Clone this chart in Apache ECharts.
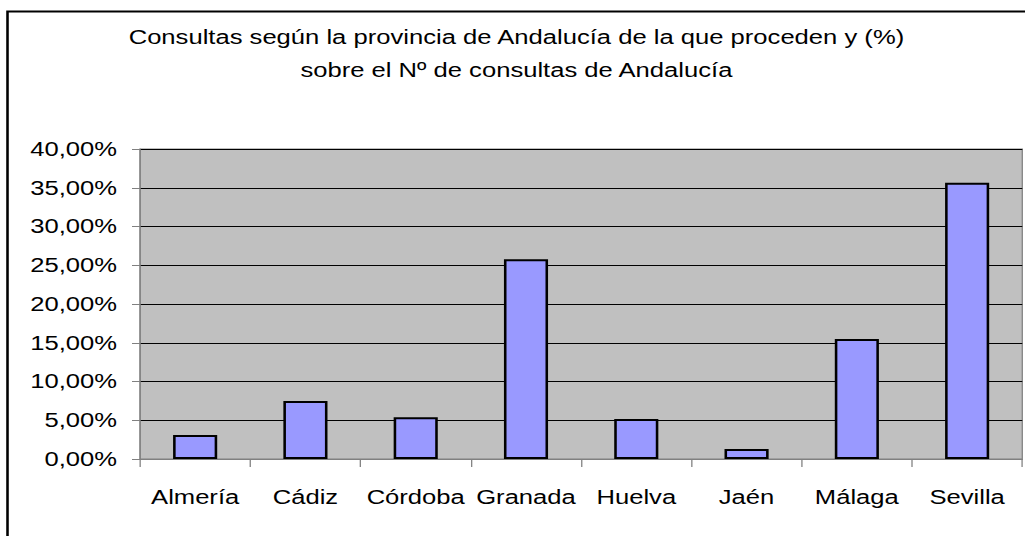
<!DOCTYPE html>
<html>
<head>
<meta charset="utf-8">
<script src="https://cdn.jsdelivr.net/npm/echarts@6/dist/echarts.min.js"></script>
<style>
  html, body { margin: 0; padding: 0; background: #ffffff; overflow: hidden; }
  /* The chart is laid out on a narrower canvas and widened horizontally,
     which gives the wide lettering and thicker vertical strokes of the original sheet. */
  #chart {
    width: 801px;
    height: 536px;
    transform: scaleX(1.28);
    transform-origin: 0 0;
  }
</style>
</head>
<body>
<div id="chart"></div>
<script>
// Provinces of Andalucía and the share of consultations from each (%)
const provincias = ['Almería', 'Cádiz', 'Córdoba', 'Granada', 'Huelva', 'Jaén', 'Málaga', 'Sevilla'];
const porcentajes = [3.10, 7.48, 5.38, 25.77, 5.16, 1.29, 15.48, 35.65];
const tituloLineas = [
  'Consultas según la provincia de Andalucía de la que proceden y (%)',
  'sobre el Nº de consultas de Andalucía'
];

const SX = 1.28; // horizontal widening applied to the chart box
const fontFamily = '"Liberation Sans", Arial, sans-serif';
const chart = echarts.init(document.getElementById('chart'), null, { renderer: 'svg' });

chart.setOption({
  animation: false,
  backgroundColor: '#ffffff',
  title: {
    text: tituloLineas.join('\n'),
    left: 510 / SX,
    top: 16,
    textAlign: 'center',
    textStyle: {
      fontFamily: fontFamily,
      fontWeight: 'normal',
      fontSize: 20,
      color: '#000000',
      lineHeight: 33
    }
  },
  graphic: [{
    type: 'rect',
    shape: { x: 7.5 / SX, y: 11.5, width: 1000, height: 600 },
    style: { fill: 'none', stroke: '#000000', lineWidth: 2 },
    silent: true,
    z: 100
  }],
  grid: {
    left: 140 / SX,
    right: 3 / SX,
    top: 149,
    bottom: 77,
    show: true,
    backgroundColor: '#c0c0c0',
    borderColor: '#808080',
    borderWidth: 1
  },
  xAxis: {
    type: 'category',
    data: provincias,
    boundaryGap: true,
    axisLine: { show: true, lineStyle: { color: '#808080', width: 1 } },
    axisTick: { show: true, length: 8, alignWithLabel: false, lineStyle: { color: '#808080' } },
    axisLabel: {
      margin: 28,
      fontFamily: fontFamily,
      fontSize: 20,
      color: '#000000',
      interval: 0
    },
    splitLine: { show: false }
  },
  yAxis: {
    type: 'value',
    min: 0,
    max: 40,
    interval: 5,
    axisLine: { show: true, lineStyle: { color: '#808080', width: 1 } },
    axisTick: { show: true, length: 8 / SX, lineStyle: { color: '#808080' } },
    axisLabel: {
      margin: 23 / SX,
      fontFamily: fontFamily,
      fontSize: 20,
      color: '#000000',
      formatter: function (v) { return v.toFixed(2).replace('.', ',') + '%'; }
    },
    splitLine: { show: true, lineStyle: { color: '#000000', width: 1 } }
  },
  series: [{
    type: 'bar',
    data: porcentajes,
    barWidth: '40%',
    itemStyle: {
      color: '#9999ff',
      borderColor: '#000000',
      borderWidth: 2
    }
  }]
});
</script>
</body>
</html>
